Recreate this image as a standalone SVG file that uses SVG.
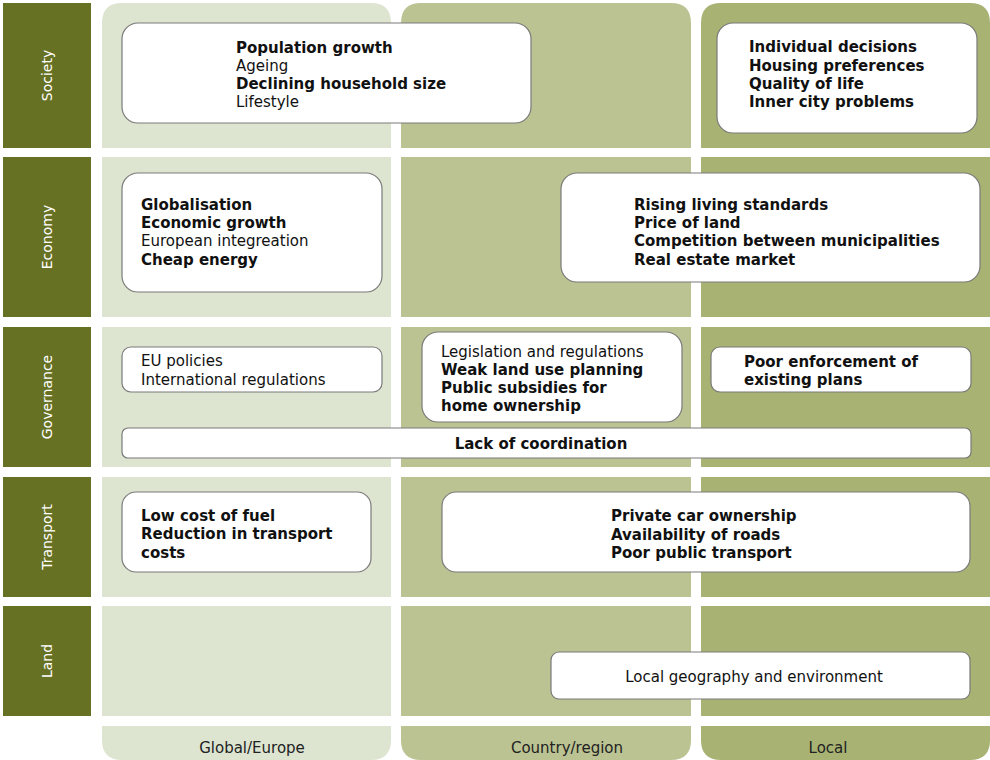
<svg xmlns="http://www.w3.org/2000/svg" width="990" height="760" viewBox="0 0 990 760">
  <style>
    .row { fill: #677123; }
    .rowlabel { fill: #ffffff; font-family: "DejaVu Sans", Verdana, sans-serif; font-size: 14px; text-anchor: middle; }
    .box { fill: #ffffff; stroke: #7a7a7a; stroke-width: 1.2; }
    .t { fill: #111111; font-family: "DejaVu Sans", Verdana, sans-serif; font-size: 15px; }
    .b { font-weight: bold; }
    .collabel { fill: #222222; font-family: "DejaVu Sans", Verdana, sans-serif; font-size: 15px; text-anchor: middle; }
  </style>

  <rect width="990" height="760" fill="#ffffff"/>

  <!-- scale columns: rounded top and bottom, split by white bands between rows -->
  <g id="columns">
    <path d="M102 23 Q102 3 122 3 L371 3 Q391 3 391 23 L391 740 Q391 760 371 760 L122 760 Q102 760 102 740 Z" fill="#dde5d1"/>
    <path d="M401 23 Q401 3 421 3 L671 3 Q691 3 691 23 L691 740 Q691 760 671 760 L421 760 Q401 760 401 740 Z" fill="#bbc392"/>
    <path d="M701 23 Q701 3 721 3 L970 3 Q990 3 990 23 L990 740 Q990 760 970 760 L721 760 Q701 760 701 740 Z" fill="#a8b272"/>
    <g fill="#ffffff">
      <rect x="95" y="148" width="895" height="9"/>
      <rect x="95" y="317" width="895" height="10"/>
      <rect x="95" y="467" width="895" height="10"/>
      <rect x="95" y="597" width="895" height="9"/>
      <rect x="95" y="716" width="895" height="10"/>
    </g>
  </g>

  <!-- row headers -->
  <g id="row-society">
    <rect class="row" x="3" y="3" width="88" height="145"/>
    <text class="rowlabel" transform="translate(52 75.5) rotate(-90)">Society</text>
  </g>
  <g id="row-economy">
    <rect class="row" x="3" y="157" width="88" height="160"/>
    <text class="rowlabel" transform="translate(52 237) rotate(-90)">Economy</text>
  </g>
  <g id="row-governance">
    <rect class="row" x="3" y="327" width="88" height="140"/>
    <text class="rowlabel" transform="translate(52 397) rotate(-90)">Governance</text>
  </g>
  <g id="row-transport">
    <rect class="row" x="3" y="477" width="88" height="120"/>
    <text class="rowlabel" transform="translate(52 537) rotate(-90)">Transport</text>
  </g>
  <g id="row-land">
    <rect class="row" x="3" y="606" width="88" height="110"/>
    <text class="rowlabel" transform="translate(52 661) rotate(-90)">Land</text>
  </g>

  <!-- column footers -->
  <g id="col-global"><text class="collabel" x="252" y="753">Global/Europe</text></g>
  <g id="col-country"><text class="collabel" x="567" y="753">Country/region</text></g>
  <g id="col-local"><text class="collabel" x="828" y="753">Local</text></g>

  <!-- Society -->
  <g id="society-global">
    <rect class="box" x="122" y="23" width="409" height="100" rx="16"/>
    <text class="t" x="236">
      <tspan class="b" x="236" y="53">Population growth</tspan>
      <tspan x="236" y="71">Ageing</tspan>
      <tspan class="b" x="236" y="89">Declining household size</tspan>
      <tspan x="236" y="107">Lifestyle</tspan>
    </text>
  </g>
  <g id="society-local">
    <rect class="box" x="717" y="23" width="260" height="110" rx="16"/>
    <text class="t b" x="749">
      <tspan x="749" y="52">Individual decisions</tspan>
      <tspan x="749" y="71">Housing preferences</tspan>
      <tspan x="749" y="89">Quality of life</tspan>
      <tspan x="749" y="107">Inner city problems</tspan>
    </text>
  </g>

  <!-- Economy -->
  <g id="economy-global">
    <rect class="box" x="122" y="173" width="260" height="119" rx="16"/>
    <text class="t" x="141">
      <tspan class="b" x="141" y="210">Globalisation</tspan>
      <tspan class="b" x="141" y="228">Economic growth</tspan>
      <tspan x="141" y="246">European integreation</tspan>
      <tspan class="b" x="141" y="265">Cheap energy</tspan>
    </text>
  </g>
  <g id="economy-local">
    <rect class="box" x="561" y="173" width="419" height="109" rx="16"/>
    <text class="t b" x="634">
      <tspan x="634" y="210">Rising living standards</tspan>
      <tspan x="634" y="228">Price of land</tspan>
      <tspan x="634" y="246">Competition between municipalities</tspan>
      <tspan x="634" y="265">Real estate market</tspan>
    </text>
  </g>

  <!-- Governance -->
  <g id="governance-global">
    <rect class="box" x="122" y="347" width="260" height="45" rx="9"/>
    <text class="t" x="141">
      <tspan x="141" y="366">EU policies</tspan>
      <tspan x="141" y="385">International regulations</tspan>
    </text>
  </g>
  <g id="governance-country">
    <rect class="box" x="422" y="332" width="260" height="90" rx="16"/>
    <text class="t" x="441">
      <tspan x="441" y="357">Legislation and regulations</tspan>
      <tspan class="b" x="441" y="375">Weak land use planning</tspan>
      <tspan class="b" x="441" y="393">Public subsidies for</tspan>
      <tspan class="b" x="441" y="411">home ownership</tspan>
    </text>
  </g>
  <g id="governance-local">
    <rect class="box" x="711" y="347" width="260" height="45" rx="9"/>
    <text class="t b" x="744">
      <tspan x="744" y="367">Poor enforcement of</tspan>
      <tspan x="744" y="385">existing plans</tspan>
    </text>
  </g>
  <g id="governance-coordination">
    <rect class="box" x="122" y="428" width="849" height="30" rx="6"/>
    <text class="t b" x="541" y="449" text-anchor="middle">Lack of coordination</text>
  </g>

  <!-- Transport -->
  <g id="transport-global">
    <rect class="box" x="122" y="492" width="249" height="80" rx="14"/>
    <text class="t b" x="141">
      <tspan x="141" y="521">Low cost of fuel</tspan>
      <tspan x="141" y="539">Reduction in transport</tspan>
      <tspan x="141" y="558">costs</tspan>
    </text>
  </g>
  <g id="transport-local">
    <rect class="box" x="442" y="492" width="528" height="80" rx="14"/>
    <text class="t b" x="611">
      <tspan x="611" y="521">Private car ownership</tspan>
      <tspan x="611" y="540">Availability of roads</tspan>
      <tspan x="611" y="558">Poor public transport</tspan>
    </text>
  </g>

  <!-- Land -->
  <g id="land-local">
    <rect class="box" x="551" y="652" width="419" height="47" rx="8"/>
    <text class="t" x="754" y="682" text-anchor="middle">Local geography and environment</text>
  </g>
</svg>
